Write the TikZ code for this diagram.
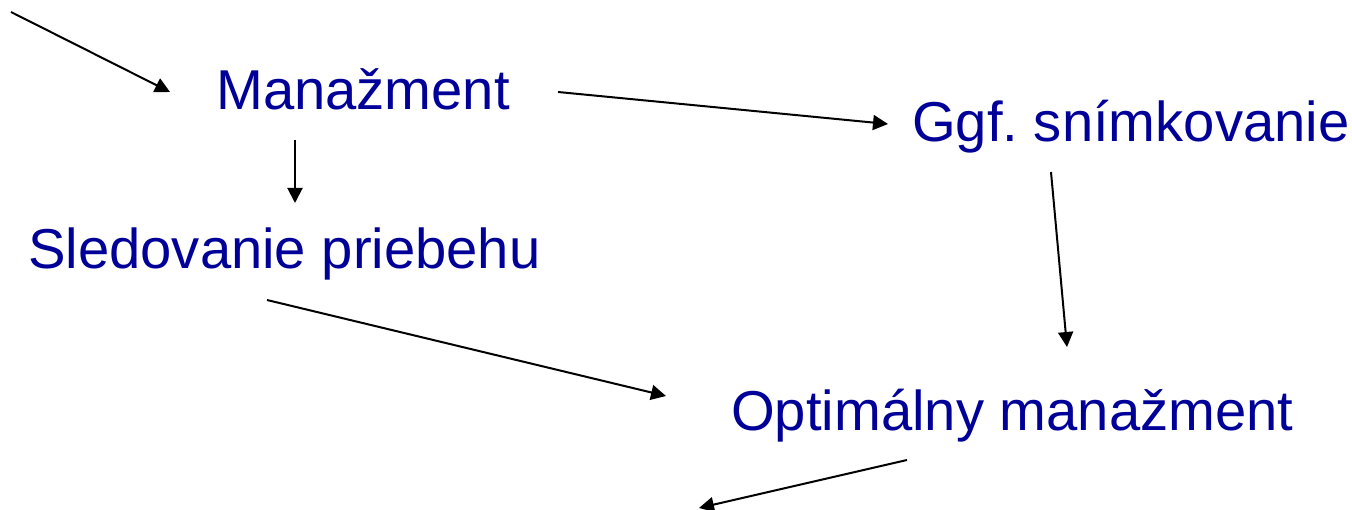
\documentclass[tikz,border=0pt]{standalone}
\usepackage{fontspec}
\setmainfont{Liberation Sans}
\usetikzlibrary{arrows.meta}
\definecolor{textblue}{RGB}{0,0,153}

\begin{document}
\begin{tikzpicture}[x=1pt, y=-1pt,
		lbl/.style={anchor=base west, inner sep=0pt, text=textblue, font=\fontsize{56.2}{66}\selectfont},
		arr/.style={line width=2pt, -{Triangle[length=15pt, width=15pt]}}]
	\useasboundingbox (0,0) rectangle (1352,510);
	\node[lbl] (man) at (216,110) {Manažment};
	\node[lbl] (ggf) at (912,142) {Ggf.\ snímkovanie};
	\node[lbl] (sled) at (28,269) {Sledovanie priebehu};
	\node[lbl] (opt) at (731,430) {Optimálny manažment};
	\coordinate (in) at (11,12);
	\coordinate (out) at (699,508);
	\draw[arr] (in) -- ([shift={(-46,-18)}]man.base west);
	\draw[arr] ([shift={(48,-18)}]man.base east) -- ([shift={(-24,-18)}]ggf.base west);
	\draw[arr] ([shift={(79,30)}]man.base west) -- ([shift={(267,-66)}]sled.base west);
	\draw[arr] ([shift={(239,31)}]sled.base west) -- ([shift={(-65,-34)}]opt.base west);
	\draw[arr] ([shift={(139,30)}]ggf.base west) -- ([shift={(336,-83)}]opt.base west);
	\draw[arr] ([shift={(176,30)}]opt.base west) -- (out);
\end{tikzpicture}
\end{document}
